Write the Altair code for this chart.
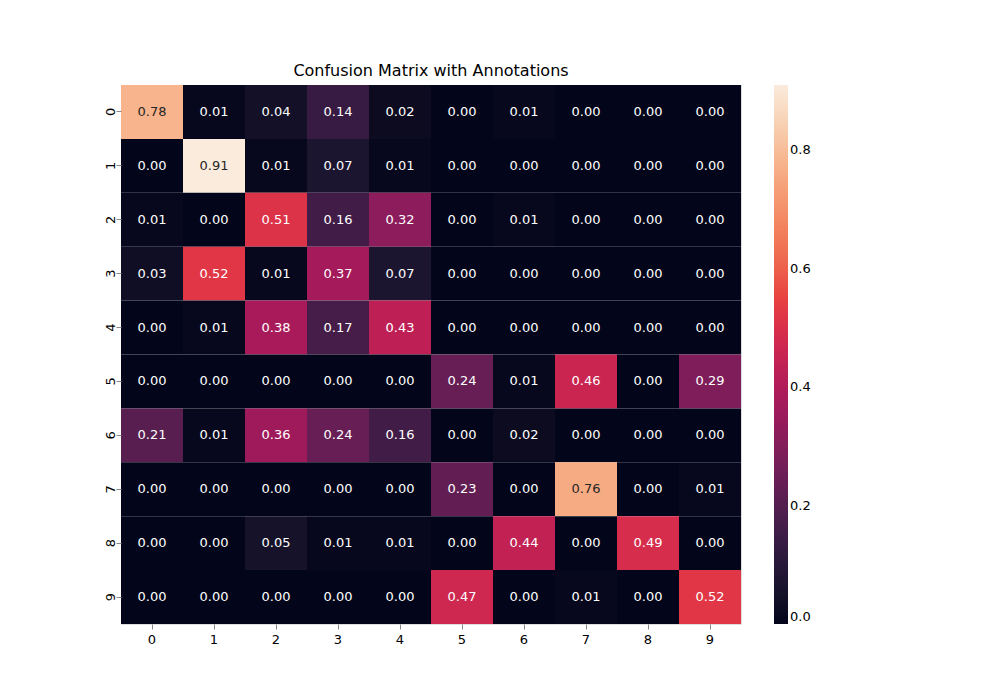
import pandas as pd
import altair as alt

labels = [str(i) for i in range(10)]
matrix = [
    [0.78, 0.01, 0.04, 0.14, 0.02, 0.00, 0.01, 0.00, 0.00, 0.00],
    [0.00, 0.91, 0.01, 0.07, 0.01, 0.00, 0.00, 0.00, 0.00, 0.00],
    [0.01, 0.00, 0.51, 0.16, 0.32, 0.00, 0.01, 0.00, 0.00, 0.00],
    [0.03, 0.52, 0.01, 0.37, 0.07, 0.00, 0.00, 0.00, 0.00, 0.00],
    [0.00, 0.01, 0.38, 0.17, 0.43, 0.00, 0.00, 0.00, 0.00, 0.00],
    [0.00, 0.00, 0.00, 0.00, 0.00, 0.24, 0.01, 0.46, 0.00, 0.29],
    [0.21, 0.01, 0.36, 0.24, 0.16, 0.00, 0.02, 0.00, 0.00, 0.00],
    [0.00, 0.00, 0.00, 0.00, 0.00, 0.23, 0.00, 0.76, 0.00, 0.01],
    [0.00, 0.00, 0.05, 0.01, 0.01, 0.00, 0.44, 0.00, 0.49, 0.00],
    [0.00, 0.00, 0.00, 0.00, 0.00, 0.47, 0.00, 0.01, 0.00, 0.52],
]

rows = []
for i, true_label in enumerate(labels):
    for j, pred_label in enumerate(labels):
        rows.append({"true": true_label, "pred": pred_label, "value": matrix[i][j]})
df = pd.DataFrame(rows)

vmax = 0.91
rocket = ["#03051a", "#4c1d4b", "#a11a5b", "#e83f3f", "#f69c73", "#faebdd"]
stops = [0, 0.2, 0.4, 0.6, 0.8, 1.0]
scale = alt.Scale(domain=[v * vmax for v in stops], range=rocket, type="linear")

base = alt.Chart(df).encode(
    x=alt.X("pred:N", sort=labels, title=None,
            axis=alt.Axis(labelAngle=0, domain=False, tickSize=5, labelFontSize=13, labelPadding=4)),
    y=alt.Y("true:N", sort=labels, title=None,
            axis=alt.Axis(labelAngle=270, domain=False, tickSize=5, labelFontSize=13, labelPadding=6,
                          labelBaseline="middle", labelAlign="center")),
)

cells = base.mark_rect().encode(
    color=alt.Color("value:Q", scale=scale, title=None,
                    legend=alt.Legend(gradientLength=539, gradientThickness=14, offset=33,
                                      values=[0, 0.2, 0.4, 0.6, 0.8], format=".1f",
                                      labelFontSize=13, tickCount=5, gradientStrokeWidth=0))
)

text = base.mark_text(fontSize=13).encode(
    text=alt.Text("value:Q", format=".2f"),
    color=alt.condition("datum.value > 0.6", alt.value("#262626"), alt.value("white")),
)

chart = (cells + text).properties(
    width=620, height=539,
    title=alt.Title("Confusion Matrix with Annotations", fontSize=16, fontWeight="normal", offset=6),
    padding={"left": 95, "top": 55, "right": 10, "bottom": 10},
).configure_view(strokeWidth=0).configure_axis(grid=False, labelColor="black", tickColor="black").configure(
    font="DejaVu Sans"
)

chart.save("out.html", embed_options={"renderer": "svg", "actions": False})
